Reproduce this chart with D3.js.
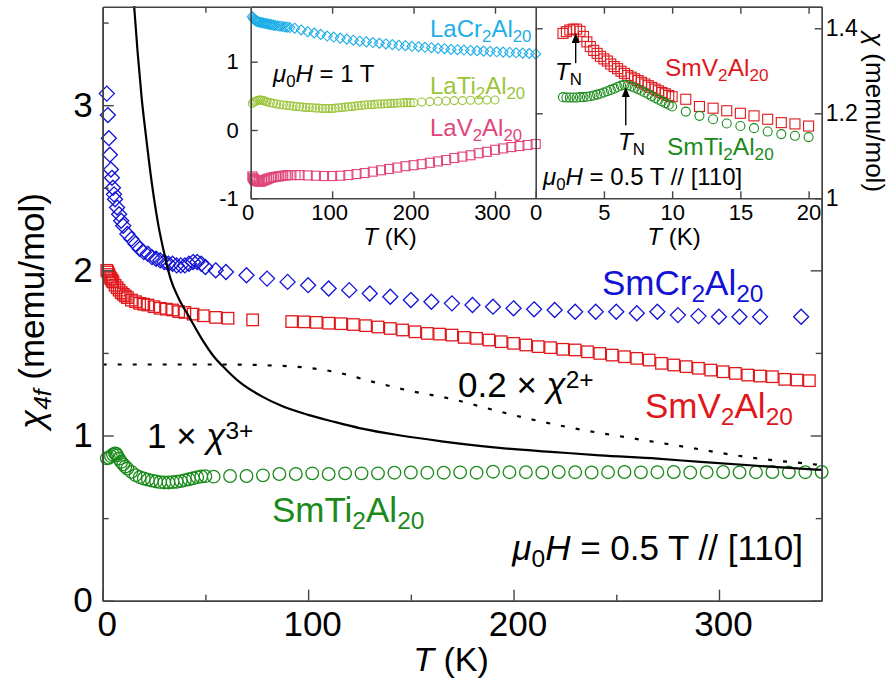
<!DOCTYPE html>
<html><head><meta charset="utf-8">
<script src="https://cdn.jsdelivr.net/npm/d3@7"></script>
<style>body{margin:0;background:#fff}</style>
</head><body><svg id="c" width="893" height="681"></svg>
<script>
// ---------------- DATA ----------------
// Main panel: chi_4f (memu/mol) vs T (K)
const smCrT = [2,2.5,3,3.5,4,4.5,5,5.5,6,7,8,9,10,12,14,16,18,20,22,24,26,28,30,32,34,36,38,40,42,44,46,48,50,55,60,70,80,90,100,110,120,130,140,150,160,170,180,190,200,210,220,230,240,250,260,270,280,290,300,310,320,340];
const smCrV = [3.07,2.94,2.80,2.70,2.61,2.56,2.50,2.46,2.43,2.38,2.34,2.30,2.27,2.22,2.19,2.16,2.13,2.11,2.10,2.08,2.07,2.06,2.05,2.04,2.04,2.03,2.03,2.03,2.04,2.05,2.05,2.04,2.02,2.00,1.99,1.97,1.95,1.93,1.91,1.89,1.88,1.86,1.84,1.82,1.81,1.80,1.79,1.78,1.77,1.764,1.76,1.749,1.749,1.749,1.74,1.749,1.729,1.723,1.719,1.719,1.719,1.719];

const smVT = [2,2.5,3,3.5,4,4.5,5,6,7,8,9,10,11,12,14,16,18,20,22,25,28,31,34,37,40,44,49,55,61,73,92,98,104,110,116,122,128,134,140,146,152,158,164,170,176,182,188,194,200,206,212,218,224,230,236,242,248,254,260,266,272,278,284,290,296,302,308,314,320,326,332,338,344];
const smVV = [2.00,1.99,1.975,1.96,1.95,1.94,1.93,1.91,1.895,1.88,1.865,1.855,1.845,1.835,1.82,1.81,1.80,1.795,1.79,1.78,1.77,1.765,1.76,1.75,1.745,1.735,1.725,1.715,1.71,1.70,1.69,1.688,1.685,1.68,1.677,1.672,1.665,1.657,1.648,1.639,1.628,1.618,1.614,1.608,1.594,1.588,1.578,1.568,1.558,1.548,1.538,1.532,1.522,1.518,1.507,1.497,1.487,1.477,1.467,1.457,1.437,1.427,1.417,1.407,1.396,1.386,1.376,1.366,1.360,1.356,1.340,1.336,1.332];

const smTiT = [2,3,4,5,6,6.5,7,8,9,10,11,12,14,16,18,20,22,24,26,28,30,32,34,36,38,40,42,44,46,48,50,54,62,70,78,86,94,102,110,118,126,134,142,150,158,166,174,182,190,198,206,214,222,230,238,246,254,262,270,278,286,294,302,310,318,326,334,342,350];
const smTiV = [0.862,0.865,0.875,0.885,0.892,0.89,0.88,0.86,0.84,0.825,0.812,0.80,0.78,0.76,0.748,0.74,0.733,0.727,0.722,0.718,0.716,0.716,0.718,0.72,0.724,0.73,0.735,0.741,0.748,0.752,0.754,0.751,0.755,0.755,0.759,0.767,0.767,0.771,0.767,0.771,0.771,0.771,0.775,0.776,0.775,0.775,0.777,0.775,0.781,0.778,0.778,0.776,0.779,0.778,0.776,0.778,0.779,0.777,0.778,0.779,0.776,0.778,0.779,0.777,0.778,0.779,0.777,0.778,0.779];

const chi3T = [15.3,17,19,21,24,27,30,33,37,42,48,54,60,67,77,87,100,112,125,145,165,193,220,242,270,291,323,350];
const chi3V = [3.60,3.32,3.04,2.82,2.52,2.28,2.10,1.95,1.83,1.72,1.59,1.48,1.40,1.32,1.24,1.18,1.125,1.085,1.045,1.00,0.965,0.925,0.90,0.88,0.86,0.84,0.813,0.792];

const chi2T = [0,20,40,60,80,100,115,130,148,172,187,210,234,258,288,307,328,343,350];
const chi2V = [1.43,1.43,1.43,1.43,1.425,1.41,1.38,1.33,1.275,1.215,1.165,1.094,1.033,0.983,0.922,0.882,0.848,0.83,0.82];

// Left inset: La compounds, mu0H = 1 T
const laCrT = [2,3,4,5,6,7,8,9,10,12,14,16,18,20,22,24,26,28,30,33,36,39,42,45,48,54,62,70,78,86,94,102,110,118,126,134,142,150,158,166,174,182,190,198,206,214,222,230,238,246,254,262,270,278,286,294,302,310,318,326,334,342,350];
const laCrV = [1.66,1.64,1.62,1.61,1.60,1.595,1.59,1.585,1.58,1.575,1.57,1.565,1.56,1.555,1.55,1.545,1.54,1.535,1.53,1.525,1.52,1.515,1.51,1.505,1.50,1.49,1.465,1.44,1.42,1.40,1.375,1.36,1.345,1.33,1.315,1.30,1.29,1.28,1.27,1.26,1.25,1.24,1.235,1.225,1.22,1.21,1.205,1.195,1.19,1.18,1.175,1.17,1.165,1.16,1.155,1.15,1.145,1.14,1.135,1.13,1.125,1.12,1.113];

const laTiT = [2,4,6,8,10,12,14,16,18,20,24,28,32,36,40,44,48,52,56,60,64,68,72,76,80,84,88,92,96,100,104,108,112,116,120,124,128,132,136,140,144,148,152,156,160,164,168,172,176,180,184,188,192,196,200,210,220,230,240,250,260,270,280,290,300];
const laTiV = [0.39,0.41,0.42,0.43,0.44,0.44,0.435,0.43,0.42,0.41,0.40,0.39,0.38,0.37,0.365,0.36,0.355,0.35,0.345,0.34,0.335,0.33,0.33,0.325,0.32,0.32,0.315,0.315,0.315,0.315,0.32,0.325,0.33,0.335,0.34,0.345,0.35,0.355,0.36,0.365,0.37,0.37,0.375,0.38,0.38,0.385,0.385,0.39,0.39,0.395,0.395,0.40,0.40,0.40,0.40,0.41,0.415,0.42,0.425,0.43,0.43,0.435,0.435,0.44,0.44];

const laVT = [2,3,4,5,6,8,10,12,14,16,18,20,22,25,28,31,34,37,40,43,46,50,55,60,70,80,90,100,110,120,130,140,150,160,170,180,190,200,210,220,230,240,250,260,270,280,290,300,310,320,330,340,350];
const laVV = [-0.68,-0.70,-0.72,-0.73,-0.74,-0.75,-0.755,-0.757,-0.75,-0.74,-0.73,-0.72,-0.71,-0.70,-0.69,-0.685,-0.68,-0.675,-0.67,-0.665,-0.66,-0.66,-0.66,-0.66,-0.665,-0.67,-0.674,-0.674,-0.67,-0.66,-0.645,-0.63,-0.61,-0.59,-0.57,-0.55,-0.53,-0.515,-0.50,-0.48,-0.46,-0.44,-0.41,-0.39,-0.37,-0.34,-0.32,-0.29,-0.27,-0.25,-0.235,-0.22,-0.205];

// Right inset: chi (memu/mol), mu0H = 0.5 T // [110]
const inVT = [2,2.25,2.5,2.75,3,3.25,3.5,3.75,4,4.25,4.5,4.75,5,5.25,5.5,5.75,6,6.25,6.5,6.75,7,7.25,7.5,7.75,8,8.25,8.5,8.75,9,9.25,9.5,9.75,10,11,12,13,14,15,16,17,18,19,20];
const inVV = [1.388,1.392,1.396,1.398,1.398,1.393,1.381,1.368,1.357,1.348,1.341,1.334,1.328,1.323,1.316,1.310,1.305,1.299,1.294,1.289,1.285,1.281,1.277,1.273,1.269,1.265,1.261,1.257,1.253,1.249,1.246,1.242,1.239,1.233,1.216,1.212,1.206,1.200,1.194,1.186,1.178,1.175,1.170];
const inTiT = [2,2.25,2.5,2.75,3,3.25,3.5,3.75,4,4.25,4.5,4.75,5,5.25,5.5,5.75,6,6.25,6.5,6.75,7,7.25,7.5,7.75,8,8.25,8.5,8.75,9,9.25,9.5,9.75,10,11,12,13,14,15,16,17,18,19,20];
const inTiV = [1.238,1.237,1.237,1.237,1.237,1.238,1.238,1.239,1.240,1.242,1.244,1.246,1.249,1.252,1.255,1.258,1.262,1.265,1.267,1.266,1.263,1.260,1.257,1.253,1.249,1.245,1.240,1.236,1.232,1.228,1.224,1.220,1.216,1.204,1.194,1.186,1.176,1.170,1.165,1.157,1.151,1.147,1.144];

// Néel temperature arrows: [T, vFrom, vTip]
const tnArrows = [[2.93,1.318,1.389],[6.6,1.172,1.262]];

// Tick values
const mainXTicks = [0,100,200,300], mainXMinor = [50,150,250];
const mainYTicks = [0,1,2,3], mainYMinor = [0.5,1.5,2.5,3.5];
const laXTicks = [0,100,200,300], laYTicks = [-1,0,1];
const smXTicks = [0,5,10,15,20], smYTicks = [1,1.2,1.4];

// ---------------- DRAW ----------------
const FONT = 'Arial, "Liberation Sans", Helvetica, sans-serif';
const svg = d3.select("#c").attr("font-family", FONT);
svg.append("rect").attr("width",893).attr("height",681).attr("fill","#fff");

const xM = d3.scaleLinear([0,350],[102.7,821.7]);
const yM = d3.scaleLinear([0,3.596],[600.7,6.7]);
const xL = d3.scaleLinear([0,350],[250.7,535.7]);
const yL = d3.scaleLinear([-1,1.805],[198.3,6.7]);
const xR = d3.scaleLinear([0,20.96],[535.7,821.7]);
const yR = d3.scaleLinear([1,1.4508],[198.3,6.7]);

const COL = {cr:"#1212d6", v:"#e0181c", ti:"#1a8a1a", lacr:"#1eaee8", lati:"#9cc43a", lav:"#e0457b"};

function styleAxis(g, fs){
  g.attr("font-size", null).attr("font-family", null);
  g.select(".domain").attr("stroke","#444").attr("stroke-width",1.6);
  g.selectAll(".tick line").attr("stroke","#444").attr("stroke-width",1.4);
  g.selectAll(".tick text").attr("fill","#000").attr("font-size",fs);
  return g;
}
function axis(gen, tx, ty, fs){
  const g = svg.append("g").attr("transform",`translate(${tx},${ty})`).call(gen);
  return styleAxis(g, fs||10);
}
const noLab = () => "";
const intLab = d => d<0 ? "-"+(-d) : String(d);

function rich(x, y, parts, size, color, anchor, rot){
  const t = svg.append("text").attr("x",x).attr("y",y).attr("font-size",size)
    .attr("fill",color).attr("text-anchor",anchor||"start");
  if (rot) t.attr("transform",`rotate(${rot},${x},${y})`);
  let cur = 0;
  parts.forEach(p => {
    const s = typeof p === "string" ? p : p[0];
    const f = typeof p === "string" ? "" : p[1];
    const ts = t.append("tspan").text(s);
    let off = 0, fs = size;
    if (f.includes("_")) { off = size*0.2; fs = size*0.7; }
    if (f.includes("^")) { off = -size*0.26; fs = size*0.7; }
    if (f.includes("I")) ts.attr("font-style","italic");
    ts.attr("font-size",fs).attr("dy",off-cur);
    cur = off;
  });
  return t;
}

function diamonds(T,V,xs,ys,h,color,sw){
  svg.append("g").selectAll("path").data(d3.zip(T,V)).join("path")
    .attr("d",d=>`M${xs(d[0])},${ys(d[1])-h}l${h},${h}l${-h},${h}l${-h},${-h}z`)
    .attr("fill","none").attr("stroke",color).attr("stroke-width",sw);
}
function squares(T,V,xs,ys,s,color,sw){
  svg.append("g").selectAll("rect").data(d3.zip(T,V)).join("rect")
    .attr("x",d=>xs(d[0])-s/2).attr("y",d=>ys(d[1])-s/2).attr("width",s).attr("height",s)
    .attr("fill","none").attr("stroke",color).attr("stroke-width",sw);
}
function circles(T,V,xs,ys,r,color,sw){
  svg.append("g").selectAll("circle").data(d3.zip(T,V)).join("circle")
    .attr("cx",d=>xs(d[0])).attr("cy",d=>ys(d[1])).attr("r",r)
    .attr("fill","none").attr("stroke",color).attr("stroke-width",sw);
}
function line(T,V,xs,ys,color,sw,dash){
  const p = svg.append("path").datum(d3.zip(T,V))
    .attr("d", d3.line().x(d=>xs(d[0])).y(d=>ys(d[1])).curve(d3.curveMonotoneX))
    .attr("fill","none").attr("stroke",color).attr("stroke-width",sw);
  if (dash) p.attr("stroke-dasharray",dash);
}

// ---- main panel ----
diamonds(smCrT, smCrV, xM, yM, 7.5, COL.cr, 1.3);
squares(smVT, smVV, xM, yM, 11.5, COL.v, 1.3);
circles(smTiT, smTiV, xM, yM, 6.3, COL.ti, 1.3);
line(chi2T, chi2V, xM, yM, "#000", 2.2, "4,11");
line(chi3T, chi3V, xM, yM, "#000", 2.2);

// main axes
axis(d3.axisBottom(xM).tickValues(mainXMinor).tickSize(-6).tickSizeOuter(0).tickFormat(noLab), 0, yM(0));
const gxb = axis(d3.axisBottom(xM).tickValues(mainXTicks).tickSize(-11).tickSizeOuter(0).tickPadding(10.5).tickFormat(intLab), 0, yM(0), 35);
gxb.selectAll(".tick text").attr("dx",4);
axis(d3.axisLeft(yM).tickValues(mainYMinor).tickSize(-6).tickSizeOuter(0).tickFormat(noLab), xM(0), 0);
axis(d3.axisLeft(yM).tickValues(mainYTicks).tickSize(-11).tickSizeOuter(0).tickPadding(10).tickFormat(intLab), xM(0), 0, 35);
axis(d3.axisRight(yM).tickValues(mainYMinor.filter(v=>v<2.4)).tickSize(-6).tickSizeOuter(0).tickFormat(noLab), xM(350), 0);
axis(d3.axisRight(yM).tickValues([0,1,2]).tickSize(-11).tickSizeOuter(0).tickFormat(noLab), xM(350), 0);
axis(d3.axisTop(xM).tickValues([50]).tickSize(-6).tickSizeOuter(0).tickFormat(noLab), 0, yM(3.596));

// main labels
rich(451, 671, [["T","I"]," (K)"], 34, "#000", "middle");
rich(44, 311, [["χ","I"],["4f","I_"]," (memu/mol)"], 35, "#000", "middle", -90);
rich(602, 295, ["SmCr",["2","_"],"Al",["20","_"]], 35, COL.cr);
rich(645, 418, ["SmV",["2","_"],"Al",["20","_"]], 35, COL.v);
rich(272, 522, ["SmTi",["2","_"],"Al",["20","_"]], 35, COL.ti);
rich(458, 397, ["0.2 × ",["χ","I"],["2+","^"]], 35, "#000");
rich(147, 448, ["1 × ",["χ","I"],["3+","^"]], 35, "#000");
rich(803, 560, [["μ","I"],["0","_"],["H","I"]," = 0.5 T // [110]"], 35, "#000", "end");

// ---- insets background ----
svg.append("rect").attr("x",xL(0)).attr("y",yL(1.805)).attr("width",xL(350)-xL(0)).attr("height",yL(-1)-yL(1.805)).attr("fill","#fff");
svg.append("rect").attr("x",xR(0)).attr("y",yR(1.4508)).attr("width",xR(20.96)-xR(0)).attr("height",yR(1)-yR(1.4508)).attr("fill","#fff");

// ---- left inset ----
diamonds(laCrT, laCrV, xL, yL, 5, COL.lacr, 1.1);
circles(laTiT, laTiV, xL, yL, 4, COL.lati, 1.1);
squares(laVT, laVV, xL, yL, 9, COL.lav, 1.1);

const gxl = axis(d3.axisBottom(xL).tickValues(laXTicks).tickSize(-7).tickSizeOuter(0).tickPadding(6).tickFormat(intLab), 0, yL(-1), 22);
gxl.selectAll(".tick text").attr("dx",-3);
axis(d3.axisLeft(yL).tickValues(laYTicks).tickSize(-7).tickSizeOuter(0).tickPadding(12).tickFormat(intLab), xL(0), 0, 22);
axis(d3.axisTop(xL).tickValues([100,200,300]).tickSize(-7).tickSizeOuter(0).tickFormat(noLab), 0, yL(1.805));

rich(390, 245, [["T","I"]," (K)"], 24, "#000", "middle");
rich(273, 82, [["μ","I"],["0","_"],["H","I"]," = 1 T"], 24, "#000");
rich(430, 37, ["LaCr",["2","_"],"Al",["20","_"]], 24, COL.lacr);
rich(430, 94, ["LaTi",["2","_"],"Al",["20","_"]], 24, COL.lati);
rich(430, 136, ["LaV",["2","_"],"Al",["20","_"]], 24, COL.lav);

// ---- right inset ----
squares(inVT, inVV, xR, yR, 10, COL.v, 1.1);
circles(inTiT, inTiV, xR, yR, 4.5, COL.ti, 1.1);

axis(d3.axisBottom(xR).tickValues(smXTicks).tickSize(-7).tickSizeOuter(0).tickPadding(6).tickFormat(intLab), 0, yR(1), 22);
axis(d3.axisTop(xR).tickValues([5,10,15,20]).tickSize(-7).tickSizeOuter(0).tickFormat(noLab), 0, yR(1.4508));
axis(d3.axisRight(yR).tickValues([1.2,1.4]).tickSize(7).tickSizeOuter(0).tickFormat(noLab), xR(0), 0);
axis(d3.axisRight(yR).tickValues(smYTicks).tickSize(-7).tickSizeOuter(0).tickPadding(4).tickFormat(d=>d===1?"1":d.toFixed(1)), xR(20.96), 0, 23);

rich(674, 245, [["T","I"]," (K)"], 24, "#000", "middle");
rich(866, 112, [["χ","I"]," (memu/mol)"], 26, "#000", "middle", 90);
rich(665, 76, ["SmV",["2","_"],"Al",["20","_"]], 24.5, COL.v);
rich(667, 155, ["SmTi",["2","_"],"Al",["20","_"]], 24.5, COL.ti);
rich(543, 185, [["μ","I"],["0","_"],["H","I"]," = 0.5 T // [110]"], 24, "#000");
rich(555, 80, [["T","I"],["N","_"]], 24, "#000");
rich(618, 150, [["T","I"],["N","_"]], 24, "#000");

tnArrows.forEach(a => {
  const x = xR(a[0]), y0 = yR(a[1]), y1 = yR(a[2]);
  svg.append("line").attr("x1",x).attr("x2",x).attr("y1",y0).attr("y2",y1+6).attr("stroke","#000").attr("stroke-width",1.4);
  svg.append("path").attr("d",`M${x},${y1}L${x-4},${y1+10}L${x+4},${y1+10}Z`).attr("fill","#000");
});
</script></body></html>
